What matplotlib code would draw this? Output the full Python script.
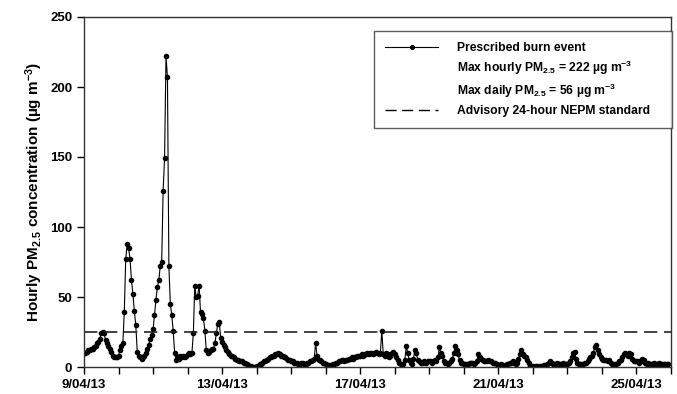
import numpy as np
import pandas as pd
import matplotlib
matplotlib.use("Agg")
import matplotlib.pyplot as plt
import matplotlib.dates as mdates
from matplotlib.lines import Line2D

plt.rcParams['font.family'] = ['Liberation Sans', 'DejaVu Sans']
plt.rcParams['font.weight'] = 'bold'
plt.rcParams['mathtext.fontset'] = 'custom'
plt.rcParams['mathtext.rm'] = 'Liberation Sans:bold'
plt.rcParams['mathtext.bf'] = 'Liberation Sans:bold'
plt.rcParams['mathtext.it'] = 'Liberation Sans:bold'

start = "2013-04-09 00:00"

# hourly PM2.5 (ug m-3), one list per day
d09 = [10, 10, 11, 12, 12, 13, 13, 14, 15, 17, 18, 20, 24, 25, 24, 19, 17, 15, 13, 11, 8, 7, 7, 7]
d10 = [8, 12, 15, 17, 39, 77, 88, 85, 77, 62, 52, 40, 30, 11, 8, 7, 6, 7, 8, 10, 13, 16, 20, 23]
d11 = [27, 37, 48, 57, 62, 72, 75, 126, 149, 222, 207, 72, 45, 37, 26, 10, 5, 7, 6, 8, 7, 8, 7, 8]
d12 = [9, 10, 9, 10, 24, 58, 50, 51, 58, 39, 38, 35, 26, 12, 10, 11, 12, 13, 13, 17, 24, 31, 32, 21]
d13 = [18, 16, 14, 12, 11, 9, 8, 8, 7, 6, 5, 5, 4, 4, 4, 3, 3, 2, 1.5, 1, 0.5, 0.3, 0.1, 0.2]
d14 = [0.5, 1, 2, 2.5, 3, 4, 4, 5, 6, 7, 7, 8, 8, 9, 9, 10, 9, 8, 8, 7, 7, 6, 5, 5]
d15 = [4, 4, 3, 3, 3, 2, 2, 3, 3, 2, 2, 3, 3, 4, 4, 5, 6, 17, 8, 5, 5, 4, 3, 3]
d16 = [2, 1.5, 1.5, 1, 1.5, 2, 2, 3, 3, 4, 4, 5, 5, 4, 5, 5, 6, 6, 7, 6, 7, 7, 8, 8]
d17 = [8, 9, 8, 9, 9, 10, 9, 10, 10, 9, 10, 11, 10, 9, 10, 26, 9, 8, 10, 9, 7, 8, 10, 11]
d18 = [9, 7, 5, 3, 2, 1.5, 2, 5, 15, 10, 5, 3, 2, 6, 12, 10, 5, 4, 3, 3, 4, 3, 3, 4]
d19 = [4, 4, 3, 4, 5, 4, 7, 14, 10, 8, 4, 3, 3, 2.5, 3, 4, 6, 10, 15, 12, 9, 5, 3, 3]
d20 = [2.5, 2.5, 2, 2.5, 3, 3, 3, 2.5, 3, 4, 9, 7, 6, 5, 4, 4, 4, 5, 4, 4, 3, 3, 3, 2]
d21 = [1.5, 1.5, 2, 1.5, 1, 1.5, 2, 2, 3, 3, 4, 3, 2, 3, 6, 9, 12, 9, 8, 7, 5, 3, 1, 0.5]
d22 = [0.5, 0.3, 0.5, 0.5, 0.3, 0.5, 1, 1, 1.5, 1, 2, 3, 4, 3, 2.5, 2, 2.5, 3, 2.5, 2, 2.5, 3, 2.5, 2]
d23 = [2.5, 3, 4, 7, 10, 11, 6, 3, 2.5, 2, 2.5, 2.5, 3, 3, 4, 6, 7, 8, 10, 14, 16, 12, 9, 7]
d24 = [6, 5, 5, 5, 4, 5, 3, 2, 1.5, 2, 2, 3, 4, 5, 7, 9, 10, 9, 8, 10, 9, 6, 4, 4]
d25 = [4, 4, 3, 4, 6, 5, 3, 2.5, 3, 2.5, 2, 2.5, 3, 2.5, 2, 2.5, 3, 2.5, 2, 2.5, 2, 2.5, 2]

pm25 = d09 + d10 + d11 + d12 + d13 + d14 + d15 + d16 + d17 + d18 + d19 + d20 + d21 + d22 + d23 + d24 + d25
nepm_std = 25
y_ticks = [0, 50, 100, 150, 200, 250]

times = pd.date_range(start, periods=len(pm25), freq="h")

fig = plt.figure(figsize=(6.77, 3.94), dpi=100)
ax = fig.add_axes([84 / 677, 1 - 367 / 394, (671 - 84) / 677, (367 - 17) / 394])

ax.plot(times, pm25, color="black", lw=0.8, marker="o", ms=3.0, mfc="black", mec="black")
ax.axhline(nepm_std, color="#222222", lw=1.2, dashes=(8, 4))

ax.set_xlim(pd.Timestamp("2013-04-09"), pd.Timestamp("2013-04-26"))
ax.set_ylim(0, 250)
ax.set_yticks(y_ticks)

ax.xaxis.set_major_locator(mdates.DayLocator(bymonthday=[9, 13, 17, 21, 25]))
ax.xaxis.set_minor_locator(mdates.DayLocator())
ax.xaxis.set_major_formatter(mdates.DateFormatter("%-d/%m/%y"))

ax.tick_params(axis="both", which="major", direction="out", length=5, width=1, labelsize=9.5)
ax.tick_params(axis="x", which="minor", direction="out", length=5, width=1)
for s in ax.spines.values():
    s.set_linewidth(1)
    s.set_color("#333333")

ax.set_ylabel(r"Hourly PM$_{2.5}$ concentration (µg m$^{-3}$)", fontsize=11, fontweight="bold")

handles = [
    Line2D([], [], color="black", lw=0.8, marker="o", ms=2.6),
    Line2D([], [], color="none"),
    Line2D([], [], color="none"),
    Line2D([], [], color="black", lw=1.0, dashes=(8, 4)),
]
labels = [
    "Prescribed burn event",
    r"Max hourly PM$_{2.5}$ = 222 µg m$^{-3}$",
    r"Max daily PM$_{2.5}$ = 56 µg m$^{-3}$",
    "Advisory 24-hour NEPM standard   ",
]
leg = ax.legend(handles, labels, loc="upper left", bbox_to_anchor=(368 / 677, 1 - 25 / 394),
                bbox_transform=fig.transFigure, fontsize=8.7, frameon=True, fancybox=False,
                edgecolor="#333333", handlelength=4.4, labelspacing=0.4, borderpad=0.9,
                handletextpad=1.6)
leg.get_frame().set_linewidth(1)

fig.savefig("out.png", dpi=100)
